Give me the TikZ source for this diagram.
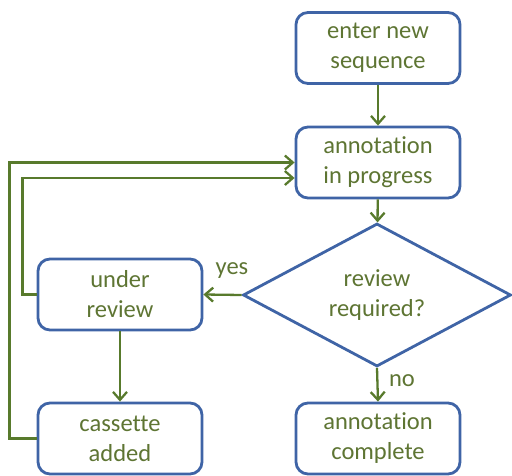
\documentclass[tikz,border=0pt]{standalone}
\usepackage{fontspec}
\setmainfont{Carlito}[Ligatures={NoCommon,NoDiscretionary,NoRare}]
\usetikzlibrary{arrows.meta,shapes.geometric}
\definecolor{boxblue}{HTML}{3F64A6}
\definecolor{linegreen}{HTML}{587A2C}
\definecolor{txtgreen}{HTML}{5E7533}
\tikzset{
  flowbox/.style={draw=boxblue, line width=2.8pt, rounded corners=12pt, fill=white,
    minimum width=164pt, minimum height=71pt, align=center, text=txtgreen,
    font=\fontsize{24.5}{30}\selectfont, inner sep=0pt},
  decision/.style={draw=boxblue, line width=2.8pt, diamond, aspect=1.86, fill=white,
    minimum width=268pt, minimum height=143pt, align=center, text=txtgreen,
    font=\fontsize{24.5}{30}\selectfont, inner sep=0pt},
  conn/.style={draw=linegreen, line width=2.3pt, -{Straight Barb[length=8pt,width=14pt,line width=2.3pt]}},
  lbl/.style={text=txtgreen, font=\fontsize{24.5}{28}\selectfont, inner sep=0pt}
}
\begin{document}
\begin{tikzpicture}[x=1pt,y=-1pt]
\useasboundingbox (0,0) rectangle (512,476);
\node[flowbox] (enter) at (378,48) {enter new\\sequence};
\node[flowbox] (ann) at (378,162.5) {annotation\\in progress};
\node[decision] (dec) at (377,295) {review\\required?};
\node[flowbox] (rev) at (120,294.5) {under\\review};
\node[flowbox] (cas) at (120,438.5) {cassette\\added};
\node[flowbox] (done) at (378,438.5) {annotation\\complete};
\draw[conn] (enter) -- (ann);
\draw[conn] (ann) -- (dec);
\draw[conn] (dec.west) -- (rev.east);
\draw[conn] (dec.south) -- (done.north);
\draw[conn] (rev) -- (cas);
\draw[conn] (cas.west) -- ++(-27,0) |- (ann.west);
\draw[conn] (rev.west) -- ++(-14,0) |- ([yshift=-15.5pt]ann.west);
\node[lbl] (yes) at (232,271) {yes};
\node[lbl] (no) at (402,381) {no};
\end{tikzpicture}
\end{document}
